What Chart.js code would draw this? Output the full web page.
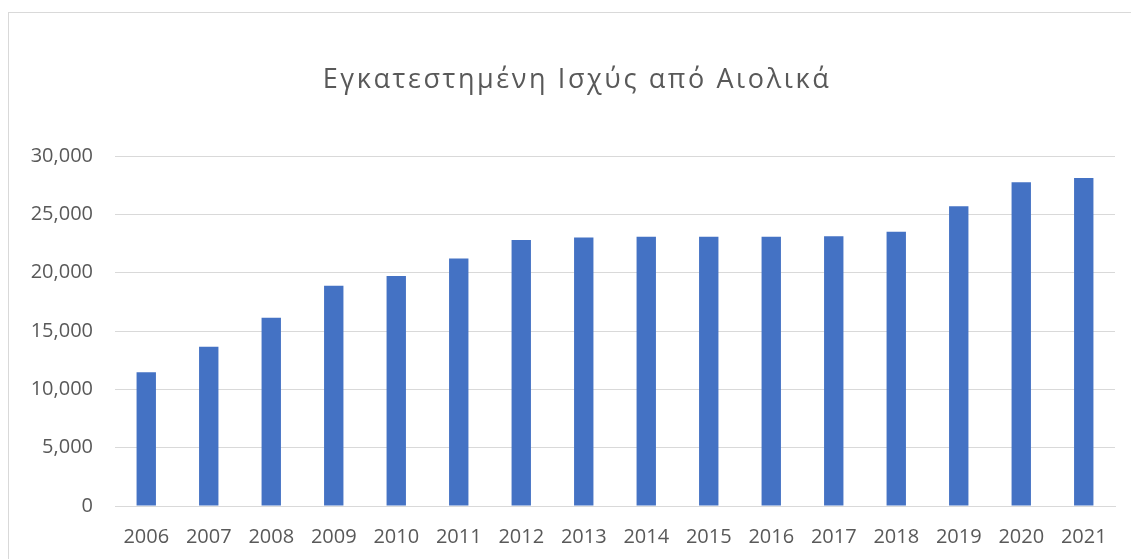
<!DOCTYPE html>
<html>

<head>
    <title>Εγκατεστημένη Ισχύς από Αιολικά</title>
    <style>
        html, body { margin: 0; padding: 0; background: #ffffff; overflow: hidden; }
        #frame { position: absolute; left: 8px; top: 12px; width: 1200px; height: 600px; border: 1px solid #d9d9d9; }
        #chart-box { position: absolute; left: 0; top: 0; width: 1131px; height: 559px; }
    </style>
</head>

<body>
    <div id="frame"></div>
    <div id="chart-box">
        <canvas id="windChart" width="1131" height="559"></canvas>
    </div>

    <script src="https://cdn.jsdelivr.net/npm/chart.js"></script>
    <script type="text/javascript">
        const chartTitle = 'Εγκατεστημένη Ισχύς από Αιολικά';
        const years = ['2006', '2007', '2008', '2009', '2010', '2011', '2012', '2013',
            '2014', '2015', '2016', '2017', '2018', '2019', '2020', '2021'];
        const installedPower = [11470, 13640, 16130, 18880, 19720, 21210, 22810, 23010,
            23070, 23070, 23070, 23120, 23500, 25700, 27740, 28110];
        const yTicks = [0, 5000, 10000, 15000, 20000, 25000, 30000];

        const textColor = '#595959';
        const gridColor = '#d9d9d9';

        // title centred over the whole frame, not just the chart box
        const frameTitle = {
            id: 'frameTitle',
            afterDraw(chart) {
                const c = chart.ctx;
                c.save();
                c.font = '27px "Open Sans"';
                c.fillStyle = textColor;
                c.textAlign = 'center';
                c.textBaseline = 'alphabetic';
                c.letterSpacing = '2.6px';
                c.fillText(chartTitle, 577, 88);
                c.restore();
            }
        };

        const ctx = document.getElementById('windChart');
        window.windChart = new Chart(ctx, {
            type: 'bar',
            data: {
                labels: years,
                datasets: [{
                    label: 'Εγκατεστημένη Ισχύς',
                    data: installedPower,
                    backgroundColor: '#4472c4',
                    borderWidth: 0,
                    categoryPercentage: 1,
                    barPercentage: 0.31
                }]
            },
            plugins: [frameTitle],
            options: {
                responsive: false,
                animation: false,
                layout: {
                    padding: { left: 0, right: 16, top: 156, bottom: 0 }
                },
                plugins: {
                    legend: { display: false },
                    tooltip: { enabled: false },
                    title: { display: false }
                },
                scales: {
                    x: {
                        grid: { display: false, drawTicks: false },
                        border: { display: true, color: gridColor, width: 1 },
                        ticks: {
                            color: textColor,
                            font: { family: 'Open Sans', size: 20 },
                            padding: 19,
                            maxRotation: 0
                        },
                        afterFit: function (scale) { scale.height = 53; }
                    },
                    y: {
                        min: 0,
                        max: 30000,
                        afterBuildTicks: function (scale) {
                            scale.ticks = yTicks.map(v => ({ value: v }));
                        },
                        grid: { color: gridColor, lineWidth: 1, drawTicks: false },
                        border: { display: false },
                        ticks: {
                            color: textColor,
                            font: { family: 'Open Sans', size: 20 },
                            padding: 22,
                            callback: v => v.toLocaleString('en-US')
                        },
                        afterFit: function (scale) { scale.width = 115; }
                    }
                }
            }
        });
    </script>
</body>

</html>
